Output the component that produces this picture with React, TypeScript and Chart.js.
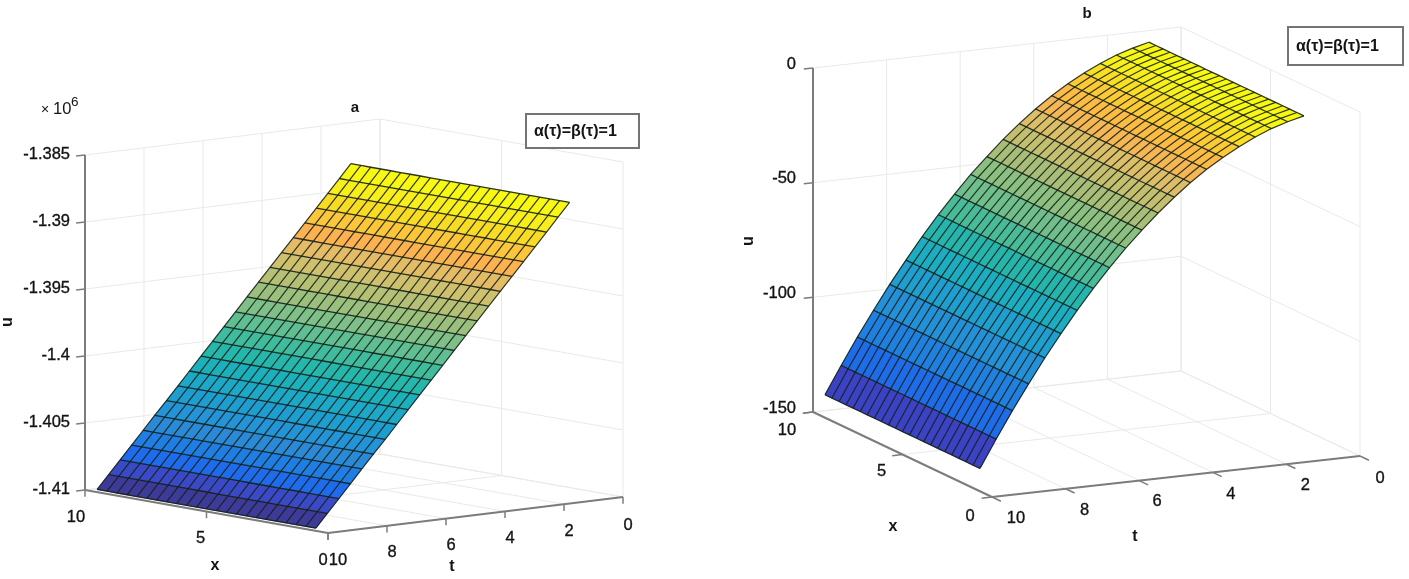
import React, { useEffect, useRef } from "react";
import { Chart, registerables } from "chart.js";

Chart.register(...registerables);

const FONT = '"Liberation Sans", Arial, sans-serif';

// ---- Panel a ----
const xGridA = [9.5, 9.09, 8.68, 8.27, 7.86, 7.45, 7.05, 6.64, 6.23, 5.82, 5.41, 5, 4.59, 4.18, 3.77, 3.36, 2.95, 2.55, 2.14, 1.73, 1.32, 0.91, 0.5];
const tGridA = [10, 9.61, 9.22, 8.83, 8.44, 8.05, 7.65, 7.26, 6.87, 6.48, 6.09, 5.7, 5.31, 4.92, 4.53, 4.14, 3.75, 3.35, 2.96, 2.57, 2.18, 1.79, 1.4];
const uRowA = [-1.4098, -1.4088, -1.4078, -1.4068, -1.4058, -1.4048, -1.4038, -1.4028, -1.4018, -1.4008, -1.3998, -1.3988, -1.3978, -1.3968, -1.3958, -1.3948, -1.3938, -1.3928, -1.3918, -1.3908, -1.3898, -1.3888, -1.3878];
const rowColorsA = ["#3d3a9a", "#3a4ac6", "#1e6cec", "#1e7ee4", "#2a8ad8", "#2394d8", "#1e9ed0", "#1da8c8", "#1cb0bc", "#25b7ac", "#3fbc9e", "#5fbf92", "#7fc088", "#9bc07e", "#b5c074", "#cfc06e", "#e5bc66", "#fbb24f", "#fbc63a", "#f8dc24", "#f8ee1c", "#f8f812"];
const uTicksA = [-1.41, -1.405, -1.4, -1.395, -1.39, -1.385];
const uTickLabelsA = ["-1.41", "-1.405", "-1.4", "-1.395", "-1.39", "-1.385"];

// ---- Panel b ----
const xGridB = [9.33, 8.94, 8.54, 8.15, 7.76, 7.36, 6.97, 6.57, 6.18, 5.79, 5.39, 5, 4.61, 4.21, 3.82, 3.43, 3.03, 2.64, 2.25, 1.85, 1.46, 1.06, 0.67];
const tGridB = [10, 9.56, 9.12, 8.68, 8.24, 7.8, 7.36, 6.92, 6.48, 6.04, 5.6, 5.16, 4.72, 4.28, 3.84, 3.4, 2.96, 2.52, 2.08, 1.64, 1.2];
const uRowB = [-140, -128, -116.4, -105.5, -95, -85.2, -75.8, -67, -58.8, -51, -44, -37.3, -31.2, -25.6, -20.6, -16.2, -12.3, -8.9, -6, -3.8, -2];
const rowColorsB = ["#3c42c4", "#1e6ce8", "#2080e0", "#2390d8", "#1f9fd0", "#1cadc0", "#26b5ac", "#4abb98", "#6fbe8c", "#8cc080", "#a8be78", "#c4bf6f", "#dcbe68", "#f5b654", "#fcbc44", "#fcca34", "#f9de24", "#f8ee1c", "#f8f814", "#f8f810"];
const uTicksB = [-150, -100, -50, 0];
const uTickLabelsB = ["-150", "-100", "-50", "0"];

// ---- Shared axes ----
const xTicks = [10, 5, 0];
const xTickLabels = ["10", "5", "0"];
const tTicks = [10, 8, 6, 4, 2, 0];
const tTickLabels = ["10", "8", "6", "4", "2", "0"];
const annotation = "α(τ)=β(τ)=1";

type Pt = { x: number; t: number; u: number };
type Panel = {
  range: [number, number];
  origin: [number, number];
  xVec: [number, number];
  tVec: [number, number];
  height: number;
  uMin: number;
  uMax: number;
  xGrid: number[];
  tGrid: number[];
  uRow: number[];
  rowColors: string[];
  uTicks: number[];
  uTickLabels: string[];
  uTickT: number;
  xTickDelta: Partial<Pt>;
  tTickDelta: Partial<Pt>;
  xLabelOffset: [number, number][];
  tLabelOffset: [number, number][];
  uLabelRight: number;
  uLabelDy: number;
  title: { text: string; at: [number, number] };
  xName: [number, number];
  tName: [number, number];
  uName: [number, number];
  box: [number, number, number, number];
  multiplier?: boolean;
};

const panelA: Panel = {
  range: [0, 704],
  origin: [85, 490],
  xVec: [243, 43],
  tVec: [295, -36],
  height: 335,
  uMin: -1.41,
  uMax: -1.385,
  xGrid: xGridA,
  tGrid: tGridA,
  uRow: uRowA,
  rowColors: rowColorsA,
  uTicks: uTicksA,
  uTickLabels: uTickLabelsA,
  uTickT: 10.3,
  xTickDelta: { u: -1.4105 },
  tTickDelta: { u: -1.4105 },
  xLabelOffset: [[-9, 27], [-6, 27], [-5, 27]],
  tLabelOffset: [[10, 27], [5, 27], [5, 27], [5, 27], [5, 27], [5, 28]],
  uLabelRight: 70,
  uLabelDy: -1,
  title: { text: "a", at: [355, 108] },
  xName: [215, 566],
  tName: [452, 567],
  uName: [8, 322],
  box: [526, 114, 113, 34],
  multiplier: true,
};

const panelB: Panel = {
  range: [704, 1409],
  origin: [813, 412],
  xVec: [179, 85],
  tVec: [368, -41],
  height: 344,
  uMin: -150,
  uMax: 0,
  xGrid: xGridB,
  tGrid: tGridB,
  uRow: uRowB,
  rowColors: rowColorsB,
  uTicks: uTicksB,
  uTickLabels: uTickLabelsB,
  uTickT: 10.25,
  xTickDelta: { t: 10.28 },
  tTickDelta: { x: -0.5 },
  xLabelOffset: [[-26, 18], [-21, 17], [-22, 19]],
  tLabelOffset: [[24, 21], [19, 22], [18, 21], [18, 22], [19, 21], [20, 22]],
  uLabelRight: 796,
  uLabelDy: -4,
  title: { text: "b", at: [1087, 14] },
  xName: [893, 527],
  tName: [1135, 537],
  uName: [749, 241],
  box: [1288, 27, 115, 38],
};

function project(p: Panel, q: Pt) {
  const fx = (10 - q.x) / 10;
  const ft = (10 - q.t) / 10;
  const fu = (q.u - p.uMin) / (p.uMax - p.uMin);
  return {
    x: p.origin[0] + fx * p.xVec[0] + ft * p.tVec[0],
    y: p.origin[1] + fx * p.xVec[1] + ft * p.tVec[1] - fu * p.height,
  };
}

function lineDs(data: { x: number; y: number }[], color: string, width: number, order: number) {
  return {
    type: "scatter" as const,
    data,
    showLine: true,
    borderColor: color,
    borderWidth: width,
    pointRadius: 0,
    pointHoverRadius: 0,
    tension: 0,
    fill: false,
    order,
  };
}

function buildDatasets(p: Panel) {
  const out: any[] = [];
  const P = (x: number, t: number, u: number) => project(p, { x, t, u });
  const grid = "#e9e9e9";
  const axis = "#7c7c7c";

  // Mesh on top of the surface
  p.tGrid.forEach((t, i) => {
    out.push(lineDs(p.xGrid.map((x) => P(x, t, p.uRow[i])), "rgba(20,32,24,0.9)", 1.3, 0));
  });
  p.xGrid.forEach((x) => {
    out.push(lineDs(p.tGrid.map((t, i) => P(x, t, p.uRow[i])), "rgba(20,32,24,0.88)", 1.2, 0));
  });

  // Surface rows, one flat colour band per step in t
  p.rowColors.forEach((c, i) => {
    const x0 = p.xGrid[0];
    const x1 = p.xGrid[p.xGrid.length - 1];
    const data = [
      P(x0, p.tGrid[i], p.uRow[i]),
      P(x1, p.tGrid[i], p.uRow[i]),
      P(x1, p.tGrid[i + 1], p.uRow[i + 1]),
      P(x0, p.tGrid[i + 1], p.uRow[i + 1]),
      P(x0, p.tGrid[i], p.uRow[i]),
    ];
    out.push({ ...lineDs(data, c, 0.6, 1), fill: "shape", backgroundColor: c });
  });

  // Axis lines and tick marks
  const u0 = p.uMin;
  out.push(lineDs([P(10, 10, p.uMin), P(10, 10, p.uMax)], axis, 2, 2));
  out.push(lineDs([P(10, 10, u0), P(0, 10, u0)], axis, 2, 2));
  out.push(lineDs([P(0, 10, u0), P(0, 0, u0)], axis, 2, 2));
  p.uTicks.forEach((u) => {
    out.push(lineDs([P(10, 10, u), P(10, p.uTickT, u)], axis, 1.5, 2));
  });
  xTicks.forEach((x) => {
    const d = p.xTickDelta;
    out.push(lineDs([P(x, 10, u0), P(x, d.t ?? 10, d.u ?? u0)], axis, 1.5, 2));
  });
  tTicks.forEach((t) => {
    const d = p.tTickDelta;
    out.push(lineDs([P(0, t, u0), P(d.x ?? 0, t, d.u ?? u0)], axis, 1.5, 2));
  });

  // Wall and floor grid behind the surface
  p.uTicks.forEach((u) => {
    out.push(lineDs([P(10, 10, u), P(10, 0, u), P(0, 0, u)], grid, 1, 3));
  });
  tTicks.forEach((t) => {
    out.push(lineDs([P(0, t, u0), P(10, t, u0), P(10, t, p.uMax)], grid, 1, 3));
  });
  xTicks.forEach((x) => {
    out.push(lineDs([P(x, 10, u0), P(x, 0, u0), P(x, 0, p.uMax)], grid, 1, 3));
  });
  return out;
}

function textPlugin(p: Panel) {
  return {
    id: "panelText",
    afterDraw(chart: any) {
      const ctx: CanvasRenderingContext2D = chart.ctx;
      const sx = chart.scales.x;
      const sy = chart.scales.y;
      const X = (v: number) => sx.getPixelForValue(v);
      const Y = (v: number) => sy.getPixelForValue(v);
      const put = (s: string, x: number, y: number) => {
        ctx.fillText(s, x, y);
        ctx.strokeText(s, x, y);
      };
      ctx.save();
      ctx.fillStyle = "#141414";
      ctx.strokeStyle = "#141414";
      ctx.lineWidth = 0.35;
      ctx.textBaseline = "middle";
      ctx.font = `16.5px ${FONT}`;

      ctx.textAlign = "right";
      p.uTicks.forEach((u, i) => {
        const q = project(p, { x: 10, t: 10, u });
        put(p.uTickLabels[i], X(p.uLabelRight), Y(q.y + p.uLabelDy));
      });
      ctx.textAlign = "center";
      xTicks.forEach((x, i) => {
        const q = project(p, { x, t: 10, u: p.uMin });
        const o = p.xLabelOffset[i];
        put(xTickLabels[i], X(q.x + o[0]), Y(q.y + o[1]));
      });
      tTicks.forEach((t, i) => {
        const q = project(p, { x: 0, t, u: p.uMin });
        const o = p.tLabelOffset[i];
        put(tTickLabels[i], X(q.x + o[0]), Y(q.y + o[1]));
      });

      ctx.font = `bold 16px ${FONT}`;
      ctx.fillText("x", X(p.xName[0]), Y(p.xName[1]));
      ctx.fillText("t", X(p.tName[0]), Y(p.tName[1]));
      ctx.save();
      ctx.translate(X(p.uName[0]), Y(p.uName[1]));
      ctx.rotate(-Math.PI / 2);
      ctx.fillText("u", 0, 0);
      ctx.restore();

      ctx.font = `bold 15px ${FONT}`;
      ctx.fillText(p.title.text, X(p.title.at[0]), Y(p.title.at[1]));

      if (p.multiplier) {
        ctx.textAlign = "left";
        ctx.font = `14px ${FONT}`;
        ctx.fillText("×", X(41), Y(110));
        ctx.font = `16.5px ${FONT}`;
        ctx.fillText("10", X(53), Y(109));
        ctx.font = `13.5px ${FONT}`;
        ctx.fillText("6", X(71), Y(102));
      }

      const [bx, by, bw, bh] = p.box;
      ctx.fillStyle = "#ffffff";
      ctx.fillRect(X(bx), Y(by), bw, bh);
      ctx.strokeStyle = "#747474";
      ctx.lineWidth = 2;
      ctx.strokeRect(X(bx), Y(by), bw, bh);
      ctx.fillStyle = "#141414";
      ctx.textAlign = "left";
      ctx.font = `bold 16px ${FONT}`;
      ctx.fillText(annotation, X(bx + 8), Y(by + bh / 2 + 1));
      ctx.restore();
    },
  };
}

function SurfacePanel({ panel }: { panel: Panel }) {
  const ref = useRef<HTMLCanvasElement | null>(null);
  useEffect(() => {
    if (!ref.current) return;
    const chart = new Chart(ref.current, {
      type: "scatter",
      data: { datasets: buildDatasets(panel) },
      plugins: [textPlugin(panel)],
      options: {
        animation: false,
        responsive: false,
        events: [],
        layout: { padding: 0 },
        plugins: { legend: { display: false }, tooltip: { enabled: false } },
        scales: {
          x: { type: "linear", display: false, min: panel.range[0], max: panel.range[1] },
          y: { type: "linear", display: false, min: 0, max: 579, reverse: true },
        },
      },
    } as any);
    return () => chart.destroy();
  }, [panel]);
  return (
    <canvas
      ref={ref}
      width={panel.range[1] - panel.range[0]}
      height={579}
      style={{ position: "fixed", left: panel.range[0], top: 0, display: "block" }}
    />
  );
}

export default function App() {
  return (
    <div>
      <SurfacePanel panel={panelA} />
      <SurfacePanel panel={panelB} />
    </div>
  );
}
